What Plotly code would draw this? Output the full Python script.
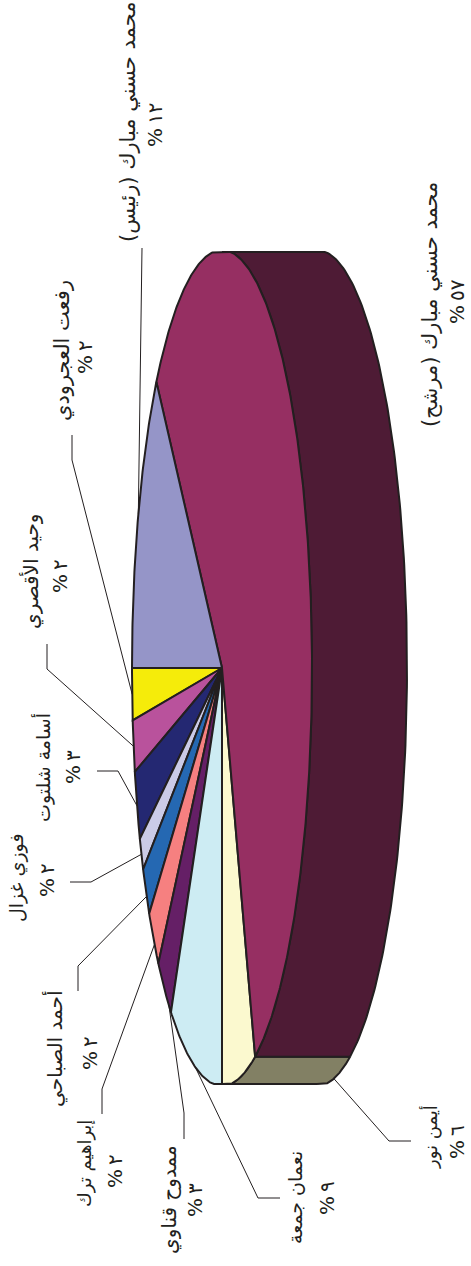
import numpy as np
import plotly.graph_objects as go

# ---- data (in pie order, from the yellow slice round) ----
names = ["رفعت العجرودي", "وحيد الأقصري", "أسامة شلتوت", "فوزي غزال", "أحمد الصباحي",
         "إبراهيم ترك", "ممدوح قناوي", "نعمان جمعة", "أيمن نور",
         "محمد حسني مبارك (مرشح)", "محمد حسني مبارك (رئيس)"]
printed_pct = ["%\u2009٢", "%\u2009٢", "%\u2009٣", "%\u2009٢", "%\u2009٢", "%\u2009٢", "%\u2009٣",
               "%\u2009٩", "%\u2009٦", "%\u2009٥٧", "%\u2009١٢"]
slice_share = [2.0, 2.0, 2.7, 1.3, 2.0, 2.5, 2.9, 9.6, 6.0, 57.0, 12.0]

top_colors = ["#f5ec0a", "#b9529c", "#242872", "#cbcbe7", "#2568b2", "#f68080",
              "#651f66", "#cdecf3", "#fbf9cf", "#962f62", "#9595c8"]
wall_colors = {8: "#828064", 9: "#4e1b35"}

# ---- layout / style (pixels of the page) ----
W, H = 471, 1266
CX, CY, RX, RY, DEPTH = 222, 668, 90, 418, 95
Y_MIN, Y_MAX = 252, 1084   # the flat cut of the drawn disc at both ends
INK = "#231f20"
FONT = "DejaVu Sans"
# name label: x, y, size ; percent label: x, y
name_pos = [(62, 351, 21), (31, 572, 20), (43, 768, 19), (16, 878, 19), (55, 1049, 20),
            (85, 1164, 18), (169, 1200, 20), (295, 1198, 19), (430, 1137, 18),
            (430, 305, 21), (128, 122, 21)]
pct_pos = [(85, 357), (60, 576), (73, 767), (47, 880), (90, 1053),
           (115, 1171), (195, 1200), (327, 1198), (457, 1142), (457, 302), (155, 125)]
# leader: fraction along the slice, elbow, end
leaders = [(0.5, (72, 460), (72, 435)), (0.5, (47, 669), (47, 644)), (0.5, (118, 771), (97, 771)),
           (0.5, (91, 882), (70, 882)), (0.6, (78, 966), (78, 991)), (0.6, (102, 1089), (102, 1114)),
           (0.85, (184, 1113), (184, 1139)), (0.5, (258, 1198), (280, 1198)),
           (0.5, (389, 1141), (411, 1141)), None, (0.5, (142, 248), (142, 248))]

# slice angles, running from the left of the ellipse towards the bottom of the page
edges = 180 - np.concatenate([[0], np.cumsum(slice_share)]) * 3.6


def pt(t_deg, dx=0):
    t = np.radians(t_deg)
    return CX + RX * np.cos(t) + dx, np.clip(CY + RY * np.sin(t), Y_MIN, Y_MAX)


def poly(x, y, color, lw=2):
    return go.Scatter(x=list(x), y=list(y), mode="lines", fill="toself", fillcolor=color,
                      line=dict(color=INK, width=lw), hoverinfo="skip", showlegend=False)


fig = go.Figure()

# side walls
for i, color in wall_colors.items():
    a, b = edges[i], edges[i + 1]
    a, b = min(a, 90), max(b, -90)
    ts = np.linspace(a, b, 160)
    x1, y1 = pt(ts, DEPTH)
    x2, y2 = pt(ts[::-1])
    fig.add_trace(poly(np.r_[x1, x2, x1[0]], np.r_[y1, y2, y1[0]], color))

# top slices
for i, color in enumerate(top_colors):
    ts = np.linspace(edges[i], edges[i + 1], max(6, int(abs(edges[i + 1] - edges[i]) * 2)))
    x, y = pt(ts)
    fig.add_trace(poly(np.r_[CX, x, CX], np.r_[CY, y, CY], color))

# leader lines
for i, lead in enumerate(leaders):
    if lead is None:
        continue
    frac, elbow, end = lead
    t = edges[i] + (edges[i + 1] - edges[i]) * frac
    x0, y0 = pt(t, DEPTH if i == 8 else 0)
    fig.add_trace(go.Scatter(x=[x0, elbow[0], end[0]], y=[y0, elbow[1], end[1]], mode="lines",
                             line=dict(color=INK, width=1), hoverinfo="skip", showlegend=False))

# labels
for n, (x, y, s), p, (px, py) in zip(names, name_pos, printed_pct, pct_pos):
    fig.add_annotation(x=x, y=y, text=n, textangle=-90, showarrow=False,
                       font=dict(family=FONT, size=s, color=INK), xanchor="center", yanchor="middle")
    fig.add_annotation(x=px, y=py, text=p, textangle=-90, showarrow=False,
                       font=dict(family=FONT, size=20, color=INK), xanchor="center", yanchor="middle")

fig.update_layout(width=W, height=H, margin=dict(l=0, r=0, t=0, b=0),
                  paper_bgcolor="white", plot_bgcolor="white", showlegend=False,
                  xaxis=dict(range=[0, W], visible=False, fixedrange=True),
                  yaxis=dict(range=[H, 0], visible=False, fixedrange=True))
fig.write_html("out.html", config=dict(displayModeBar=False),
               post_script="document.body.style.margin='0';document.documentElement.style.overflow='hidden';")
